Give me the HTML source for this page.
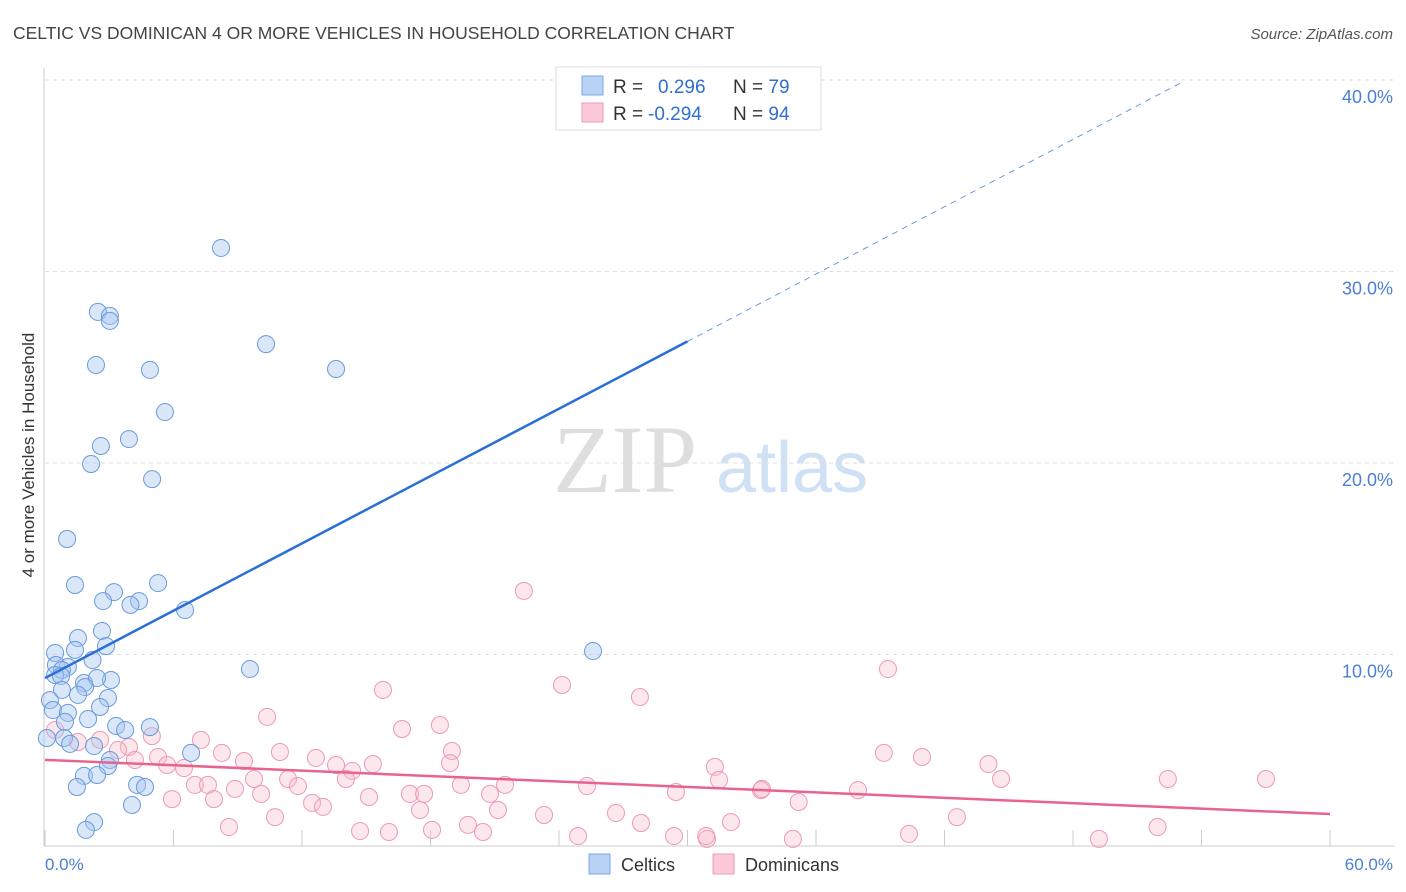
<!DOCTYPE html>
<html><head><meta charset="utf-8"><style>
body{margin:0;background:#fff;width:1406px;height:892px;overflow:hidden;font-family:"Liberation Sans",sans-serif}
svg{position:absolute;left:0;top:0}
</style></head><body>
<svg width="1406" height="892">
<text x="13" y="39" font-size="17.5" fill="#444">CELTIC VS DOMINICAN 4 OR MORE VEHICLES IN HOUSEHOLD CORRELATION CHART</text>
<text x="1393" y="39" font-size="15" fill="#555" font-style="italic" text-anchor="end">Source: ZipAtlas.com</text>
<g>
<text x="553" y="492" font-size="96" font-family="Liberation Serif,serif" fill="#dedede">ZIP</text>
<text x="716" y="492" font-size="72" fill="#d0e0f5">atlas</text>
</g>
<g id="grid"></g>
<line x1="44" y1="68" x2="44" y2="846" stroke="#ccc"/>
<line x1="44" y1="846" x2="1395" y2="846" stroke="#ccc"/>
<text transform="translate(34,455) rotate(-90)" font-size="17" fill="#333" text-anchor="middle">4 or more Vehicles in Household</text>
<text x="45" y="870" font-size="17" fill="#4a7fd4">0.0%</text>
<text x="1393" y="870" font-size="17" fill="#4a7fd4" text-anchor="end">60.0%</text>
<g id="pts"></g>
<g id="lines"></g>
<g>
<rect x="556" y="67" width="265" height="63" fill="#fff" stroke="#ddd"/>
<rect x="582" y="76" width="21" height="19" fill="#b8d3f5" stroke="#7aa7e4"/>
<rect x="582" y="103" width="21" height="19" fill="#fbc9d8" stroke="#ec9ab3"/>
<text x="613" y="93" font-size="19" fill="#333">R = <tspan x="658" fill="#2f6fd3">0.296</tspan><tspan x="733" fill="#333">N = </tspan><tspan fill="#2f6fd3">79</tspan></text>
<text x="613" y="120" font-size="19" fill="#333">R = <tspan x="648" fill="#2f6fd3">-0.294</tspan><tspan x="733" fill="#333">N = </tspan><tspan fill="#2f6fd3">94</tspan></text>
</g>
<g>
<rect x="589" y="854" width="21" height="20" fill="#b8d3f5" stroke="#7aa7e4"/>
<text x="621" y="871" font-size="18" fill="#333">Celtics</text>
<rect x="713" y="854" width="21" height="20" fill="#fbc9d8" stroke="#ec9ab3"/>
<text x="745" y="871" font-size="18" fill="#333">Dominicans</text>
</g>
</svg>
<script>
const yTicks=[10,20,30,40];
const yTickLabels=["10.0%","20.0%","30.0%","40.0%"];
const xTickVals=[0,6,12,18,24,30,36,42,48,54,60];
const celticX=[8.22,2.47,3.03,3.03,10.32,2.38,4.90,13.59,5.60,3.92,2.61,2.15,5.00,1.03,1.40,5.28,3.22,2.71,4.39,3.99,6.54,1.54,2.66,2.85,1.40,25.59,0.47,2.22,9.57,0.51,1.07,0.79,0.47,0.75,1.82,3.08,2.43,1.87,0.79,1.54,2.94,0.23,0.37,2.57,1.07,2.01,0.93,3.32,4.90,3.74,0.89,1.17,2.29,6.82,3.03,2.94,1.82,2.43,4.30,4.67,1.49,4.06,2.29,1.91,0.09];
const celticY=[31.23,27.89,27.68,27.42,26.21,25.12,24.86,24.91,22.66,21.25,20.89,19.95,19.16,16.03,13.63,13.73,13.26,12.79,12.79,12.59,12.32,10.86,11.23,10.44,10.24,10.18,10.08,9.71,9.24,9.45,9.35,9.19,8.93,8.88,8.51,8.67,8.77,8.30,8.15,7.89,7.73,7.62,7.10,7.26,6.95,6.63,6.48,6.27,6.21,6.06,5.64,5.33,5.22,4.86,4.49,4.18,3.66,3.71,3.19,3.08,3.08,2.14,1.25,0.84,5.64];
const domX=[22.36,39.36,15.78,24.14,27.78,10.37,18.44,16.67,0.47,4.99,7.28,2.57,1.54,3.92,3.41,8.26,10.97,19.00,39.17,40.95,12.65,5.28,9.29,15.31,18.91,13.59,14.34,6.49,5.70,31.28,44.05,4.20,9.76,11.35,14.05,31.47,44.64,52.43,57.01,11.81,7.00,7.61,8.87,19.42,21.48,25.31,33.43,29.46,37.96,33.48,10.09,15.13,17.04,17.70,20.78,5.93,7.89,12.47,12.98,17.51,21.15,35.19,26.66,23.30,10.74,42.58,27.83,32.03,8.59,19.75,14.71,16.06,18.07,20.45,24.89,29.37,30.91,34.92,40.34,49.21,51.95,30.87];
const domY=[13.32,9.24,8.15,8.41,7.78,6.74,6.32,6.11,6.06,5.74,5.54,5.54,5.43,5.17,5.01,4.86,4.91,4.96,4.86,4.65,4.60,4.65,4.44,4.28,4.33,4.23,3.92,4.07,4.23,4.13,4.28,4.49,3.50,3.50,3.50,3.45,3.50,3.50,3.50,3.13,3.19,3.19,2.98,3.19,3.19,3.13,2.92,2.82,2.92,2.98,2.72,2.56,2.72,2.72,2.72,2.45,2.45,2.25,2.04,1.88,1.88,2.30,1.72,1.62,1.51,1.51,1.20,1.25,0.99,1.10,0.78,0.73,0.84,0.73,0.52,0.52,0.37,0.37,0.63,0.37,0.99,0.52];
const celticTrend=[8.77,0.586];
const domTrend=[4.5,-0.0472];
const NS='http://www.w3.org/2000/svg';
const sx=v=>45+v/60*1285, sy=v=>846-v*19.15;
function mk(t,a,p){const e=document.createElementNS(NS,t);for(const k in a)e.setAttribute(k,a[k]);p.appendChild(e);return e;}
const grid=document.getElementById('grid');
yTicks.forEach((t,i)=>{
 const l=mk('line',{x1:45,x2:1395,y1:sy(t),y2:sy(t),stroke:'#ddd','stroke-dasharray':'4,4'},grid);
 
 
 const tx=mk('text',{x:1393,y:sy(t)+23,'font-size':18,fill:'#4a7fd4','text-anchor':'end'},grid);
 tx.textContent=yTickLabels[i];
 
 
});
xTickVals.forEach(v=>{
 const l=mk('line',{x1:sx(v),x2:sx(v),y1:830,y2:846,stroke:'#ccc'},grid);
 
 
});
const pts=document.getElementById('pts');
domX.forEach((x,i)=>{
 const c=mk('circle',{cx:sx(x),cy:sy(domY[i]),r:8.5,fill:'rgba(246,185,204,0.35)',stroke:'#eb9ab3','stroke-width':1},pts);
 
 
});
celticX.forEach((x,i)=>{
 const c=mk('circle',{cx:sx(x),cy:sy(celticY[i]),r:8.5,fill:'rgba(165,198,240,0.42)',stroke:'#6a9adb','stroke-width':1},pts);
 
 
});
const lines=document.getElementById('lines');
const cy=x=>celticTrend[0]+celticTrend[1]*x;
let l1=mk('line',{x1:sx(0),y1:sy(cy(0)),x2:sx(30),y2:sy(cy(30)),stroke:'#2b6fd6','stroke-width':2.5},lines);


let l2=mk('line',{x1:sx(30),y1:sy(cy(30)),x2:sx(53),y2:sy(cy(53)),stroke:'#6b9be0','stroke-width':1,'stroke-dasharray':'6,5'},lines);


const dy=x=>domTrend[0]+domTrend[1]*x;
let l3=mk('line',{x1:sx(0),y1:sy(dy(0)),x2:sx(60),y2:sy(dy(60)),stroke:'#e8648f','stroke-width':2.5},lines);


</script>
</body></html>
